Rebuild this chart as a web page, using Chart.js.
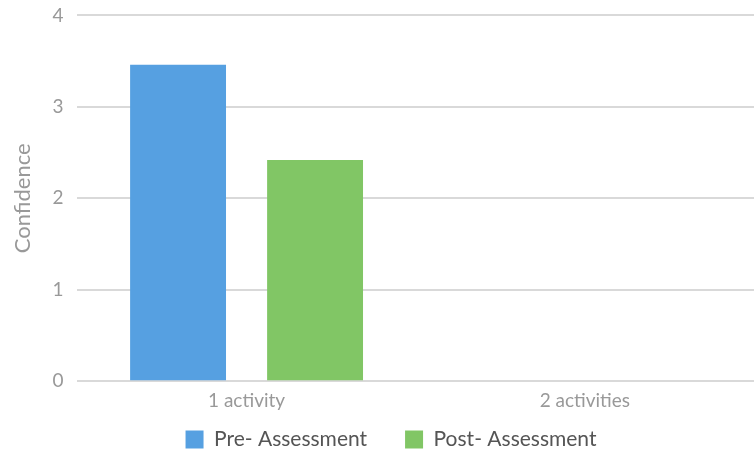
<!DOCTYPE html>
<html>
<head>
<meta charset="utf-8">
<script src="https://cdn.jsdelivr.net/npm/chart.js@4"></script>
<style>
html,body{margin:0;padding:0;background:#fff;}
#wrap{width:754px;height:451px;}
</style>
</head>
<body>
<div id="wrap"><canvas id="c" width="754" height="451"></canvas></div>
<script>
const categories = ["1 activity", "2 activities"];
const preAssessment = [3.46, null];
const postAssessment = [2.42, null];
const seriesNames = ["Pre- Assessment", "Post- Assessment"];
const yTicks = [0, 1, 2, 3, 4];

// Compact the legend vertically while keeping wide horizontal spacing between items
const compactLegend = {
  id: 'compactLegend',
  afterInit(chart) {
    const lg = chart.legend;
    if (!lg) return;
    const origFit = lg.fit.bind(lg);
    lg.fit = function () { origFit(); this.height = 31; };
    const origDraw = lg.draw.bind(lg);
    lg.draw = function () {
      const t = this.top, l = this.left, r = this.right;
      this.top = t - 29;
      this.left = l + 10;
      this.right = r + 10;
      origDraw();
      this.top = t; this.left = l; this.right = r;
    };
  }
};

new Chart(document.getElementById('c'), {
  type: 'bar',
  data: {
    labels: categories,
    datasets: [
      {label: seriesNames[0], data: preAssessment, backgroundColor: '#56a0e1', categoryPercentage: 0.81, barPercentage: 0.7},
      {label: seriesNames[1], data: postAssessment, backgroundColor: '#81c665', categoryPercentage: 0.81, barPercentage: 0.7}
    ]
  },
  plugins: [compactLegend],
  options: {
    responsive: false,
    animation: false,
    layout: {padding: {top: 0, right: 0, left: 8, bottom: 0}},
    plugins: {
      legend: {
        position: 'bottom',
        labels: {
          font: {family: 'Lato', size: 21},
          color: '#555',
          boxWidth: 18, boxHeight: 18,
          padding: 38
        }
      },
      tooltip: {enabled: false}
    },
    scales: {
      x: {
        grid: {display: false, drawTicks: false},
        border: {display: false},
        ticks: {font: {family: 'Lato', size: 19}, color: '#999', padding: 8}
      },
      y: {
        min: 0, max: 4,
        afterBuildTicks: (s) => { s.ticks = yTicks.map(v => ({value: v})); },
        grid: {color: '#d9d9d9', lineWidth: 2, drawTicks: false},
        border: {display: false},
        ticks: {font: {family: 'Lato', size: 19, lineHeight: 0.15}, color: '#999', padding: 14},
        title: {display: true, text: 'Confidence', font: {family: 'Lato', size: 22}, color: '#999', padding: {top: 2, bottom: 2}}
      }
    }
  }
});
</script>
</body>
</html>
